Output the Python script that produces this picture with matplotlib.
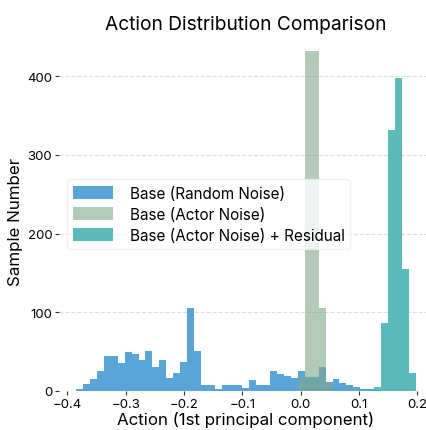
import numpy as np
import matplotlib
matplotlib.use("Agg")
import matplotlib.pyplot as plt

plt.rcParams['font.family'] = ['Inter', 'DejaVu Sans']

# shared histogram bins (49 bins)
bin_lo, bin_hi, n_bins = -0.385, 0.197, 49

# counts per bin
random_noise = [2, 9, 15, 25, 45, 44, 35, 50, 47, 40,
                51, 30, 39, 17, 23, 37, 106, 51, 8, 8,
                3, 7, 7, 7, 4, 14, 8, 7, 25, 22,
                19, 17, 25, 18, 18, 31, 11, 15, 10, 8,
                5, 3, 2, 1, 0, 0, 0, 0, 0]
actor_noise = [0] * 32 + [18, 860, 830, 105, 11] + [0] * 12
actor_residual = [0] * 42 + [1, 5, 87, 331, 397, 155, 23]

labels = ["Base (Random Noise)", "Base (Actor Noise)", "Base (Actor Noise) + Residual"]
colors = ["#5aa5d8", "#80a888", "#3eb0b0"]
alphas = [1.0, 0.6, 0.85]

edges = np.linspace(bin_lo, bin_hi, n_bins + 1)
w = edges[1] - edges[0]

fig = plt.figure(figsize=(4.27, 4.31), dpi=100)
ax = fig.add_axes([0.1387, 0.0905, 0.8745, 0.789])

for counts, lab, c, a in zip([random_noise, actor_noise, actor_residual], labels, colors, alphas):
    ax.bar(edges[:-1], counts, width=w, align='edge', color=c, alpha=a,
           linewidth=0, label=lab)

ax.set_xlim(-0.414, 0.226)
ax.set_ylim(0, 432)
ax.set_yticks([0, 100, 200, 300, 400])
ax.set_xticks([-0.4, -0.3, -0.2, -0.1, 0.0, 0.1, 0.2])
ax.set_xticklabels(["\u22120.4", "\u22120.3", "\u22120.2", "\u22120.1", "0.0", "0.1", "0.2"])
ax.grid(axis='y', linestyle='--', color='#dddddd', linewidth=0.8)
ax.set_axisbelow(True)
for s in ax.spines.values():
    s.set_visible(False)
ax.tick_params(axis='both', length=3, width=0.8, labelsize=9.5, color='#333333', pad=2)

ax.set_xlabel("Action (1st principal component)", fontsize=12.2, labelpad=1)
ax.set_ylabel("Sample Number", fontsize=12.2, labelpad=3)
ax.set_title("Action Distribution Comparison", fontsize=13.8, pad=16)

ax.legend(loc='center left', bbox_to_anchor=(0.0, 0.52), fontsize=11,
          framealpha=0.8, edgecolor='#eeeeee', handlelength=2.6, handleheight=0.9,
          handletextpad=1.1, labelspacing=0.4)

fig.savefig("out.png", dpi=100)
